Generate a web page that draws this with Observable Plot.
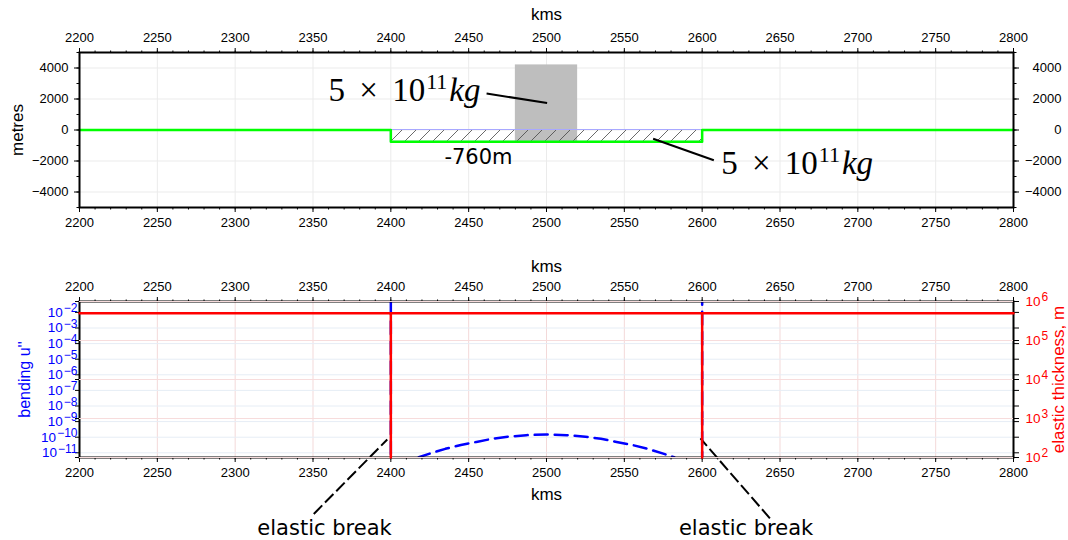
<!DOCTYPE html>
<html>
<head>
<meta charset="utf-8">
<script src="https://cdn.jsdelivr.net/npm/d3@7"></script>
<script src="https://cdn.jsdelivr.net/npm/@observablehq/plot@0.6"></script>
<style>
  html, body { margin: 0; padding: 0; background: #fff; }
  #wrap { position: relative; width: 1068px; height: 540px; overflow: hidden; background: #fff; }
  #wrap svg { position: absolute; left: 0; max-width: none; }
</style>
</head>
<body>
<div id="wrap"></div>
<script>
// ---------- data ----------
const kmTicks = [2200, 2250, 2300, 2350, 2400, 2450, 2500, 2550, 2600, 2650, 2700, 2750, 2800];
const kmMinor = d3.range(2200, 2801, 10);
const metreTicks = [-4000, -2000, 0, 2000, 4000];
const metreMinor = [-5000, -4000, -3000, -2000, -1000, 0, 1000, 2000, 3000, 4000, 5000];
const bendingTicks = [1e-2, 1e-3, 1e-4, 1e-5, 1e-6, 1e-7, 1e-8, 1e-9, 1e-10, 1e-11];
const thicknessTicks = [1e2, 1e3, 1e4, 1e5, 1e6];

// top panel: topography profile (metres)
const profileKm = [2200, 2400, 2400, 2600, 2600, 2800];
const profileM  = [0, 0, -760, -760, 0, 0];
// load block
const loadKm = [2480, 2520];
const loadM = [-760, 4200];
// infill (hatched)
const infillKm = [2400, 2600];
const infillM = [-760, 0];
// annotations
const massText = "5 × 10^11 kg";
const massLabelKm = [2457.6, 2612.2];
const massLabelM = [2522, -2189];
const leaderFromKm = [2461.5, 2568.5];
const leaderFromM = [2355, -563];
const leaderToKm = [2500.4, 2607.5];
const leaderToM = [1741, -1952];
const depthText = "-760m";
const depthKm = 2456.3;
const depthM = -1760;

// bottom panel
const thicknessKm = [2200, 2400, 2400, 2400, 2600, 2600, 2600, 2800];
const thicknessM  = [5e5, 5e5, 1e2, 5e5, 5e5, 1e2, 5e5, 5e5];
const bendingKm  = [2400, 2400, 2410, 2418, 2425, 2435, 2445, 2455, 2465, 2475, 2487, 2500, 2513, 2525, 2535, 2545, 2555, 2565, 2575, 2582, 2590, 2600, 2600];
const bendingVal = [1, 1e-13, 1e-12, 5.2e-12, 8.9e-12, 1.8e-11, 3.2e-11, 5.0e-11, 7.9e-11, 1.07e-10, 1.35e-10, 1.51e-10, 1.35e-10, 1.07e-10, 7.9e-11, 5.0e-11, 3.2e-11, 1.8e-11, 8.9e-12, 5.2e-12, 1e-12, 1e-13, 1];
const breakText = "elastic break";
const breakTipKm = [2397.7, 2598.9];
const breakTipVal = [7.2e-11, 8.3e-11];
const breakTailKm = [2350.5, 2643.5];
const breakTailVal = [1.2e-15, 6.3e-16];
const breakTextKm = [2357.4, 2628.2];

// ---------- tables ----------
const profile = profileKm.map((k, i) => ({km: k, m: profileM[i]}));
const load = [{x1: loadKm[0], x2: loadKm[1], y1: loadM[0], y2: loadM[1]}];
const infill = [{x1: infillKm[0], x2: infillKm[1], y1: infillM[0], y2: infillM[1]}];
const leaders = leaderFromKm.map((k, i) => ({x1: k, y1: leaderFromM[i], x2: leaderToKm[i], y2: leaderToM[i]}));
const thickness = thicknessKm.map((k, i) => ({km: k, v: thicknessM[i]}));
const bending = bendingKm.map((k, i) => ({km: k, v: bendingVal[i]}));
const breaks = breakTipKm.map((k, i) => ({x1: breakTailKm[i], y1: breakTailVal[i], x2: k, y2: breakTipVal[i], tx: breakTextKm[i], t: breakText}));

// ---------- helpers ----------
const W = 1068;
const base = {fontFamily: "'Liberation Sans', Arial, Helvetica, sans-serif", fontSize: "13px", background: "transparent", color: "black", overflow: "visible"};
const fmtInt = d3.format("d");
const fmtPow = d => "10^" + fmtInt(Math.round(Math.log10(d)));
const blank = () => "";
const NS = "http://www.w3.org/2000/svg";

function xAxes() {
  return [
    Plot.axisX(kmTicks, {anchor: "top", tickSize: 5, tickPadding: 6, tickFormat: fmtInt, label: null}),
    Plot.axisX(kmMinor, {anchor: "top", tickSize: 2.5, tickFormat: blank, label: null}),
    Plot.axisX(kmTicks, {anchor: "bottom", tickSize: 5, tickPadding: 5, tickFormat: fmtInt, label: null}),
    Plot.axisX(kmMinor, {anchor: "bottom", tickSize: 2.5, tickFormat: blank, label: null})
  ];
}

function richText(svg) {
  svg.querySelectorAll("text").forEach(t => {
    const s = t.textContent;
    if (s === massText) {
      const m = s.match(/^(.*)10\^(\d+) (.*)$/);
      t.textContent = "";
      const a = document.createElementNS(NS, "tspan");
      a.textContent = m[1] + "10";
      a.setAttribute("word-spacing", "6");
      const b = document.createElementNS(NS, "tspan");
      b.textContent = m[2];
      b.setAttribute("font-size", "22");
      b.setAttribute("dy", "-12");
      b.setAttribute("dx", "1");
      const c = document.createElementNS(NS, "tspan");
      c.textContent = m[3];
      c.setAttribute("font-style", "italic");
      c.setAttribute("dy", "12");
      c.setAttribute("dx", "2");
      t.append(a, b, c);
      return;
    }
    const m = s.match(/^10\^(.+)$/);
    if (m) {
      t.textContent = "10";
      t.setAttribute("font-size", "13.5");
      const sup = document.createElementNS(NS, "tspan");
      sup.textContent = m[1];
      sup.setAttribute("font-size", "12");
      sup.setAttribute("dy", "-4.5");
      sup.setAttribute("dx", "1");
      t.appendChild(sup);
    }
  });
}

// ---------- top panel ----------
const topPlot = Plot.plot({
  width: W, height: 250,
  marginLeft: 79, marginRight: 55, marginTop: 52, marginBottom: 43,
  style: base,
  x: {domain: [2200, 2800]},
  y: {domain: [-5000, 5000]},
  marks: [
    Plot.gridX(kmTicks, {stroke: "#ebebeb", strokeOpacity: 1}),
    Plot.gridY(metreTicks, {stroke: "#ebebeb", strokeOpacity: 1}),
    Plot.rect(load, {x1: "x1", x2: "x2", y1: "y1", y2: "y2", fill: "#bebebe"}),
    Plot.rect(infill, {x1: "x1", x2: "x2", y1: "y1", y2: "y2", fill: "url(#hatch)", stroke: "#a8a8ff", strokeWidth: 1}),
    Plot.line(profile, {x: "km", y: "m", stroke: "#00ff00", strokeWidth: 2.5}),
    Plot.link(leaders, {x1: "x1", y1: "y1", x2: "x2", y2: "y2", stroke: "black", strokeWidth: 2}),
    Plot.text([massText], {x: () => massLabelKm[0], y: () => massLabelM[0], textAnchor: "end", fontFamily: "'Liberation Serif', 'Times New Roman', serif", fontSize: 33}),
    Plot.text([massText], {x: () => massLabelKm[1], y: () => massLabelM[1], textAnchor: "start", fontFamily: "'Liberation Serif', 'Times New Roman', serif", fontSize: 33}),
    Plot.text([depthText], {x: () => depthKm, y: () => depthM, fontFamily: "'DejaVu Sans', sans-serif", fontSize: 21}),
    ...xAxes(),
    Plot.axisY(metreTicks, {anchor: "left", tickSize: 5, tickPadding: 6, tickFormat: fmtInt, label: null}),
    Plot.axisY(metreMinor, {anchor: "left", tickSize: 2.5, tickFormat: blank, label: null}),
    Plot.axisY(metreTicks, {anchor: "right", tickSize: 5, tickPadding: 43, textAnchor: "end", tickFormat: fmtInt, label: null}),
    Plot.axisY(metreMinor, {anchor: "right", tickSize: 2.5, tickFormat: blank, label: null}),
    Plot.frame({stroke: "black", strokeWidth: 2}),
    Plot.text(["kms"], {frameAnchor: "top", lineAnchor: "middle", textAnchor: "middle", dy: -38, fontSize: 17}),
    Plot.text(["metres"], {frameAnchor: "left", lineAnchor: "middle", textAnchor: "middle", dx: -62, rotate: -90, fontSize: 17})
  ]
});

// ---------- bottom panel: bending (left log axis) ----------
const bendPlot = Plot.plot({
  width: W, height: 290,
  marginLeft: 79, marginRight: 55, marginTop: 51, marginBottom: 83,
  style: base,
  x: {domain: [2200, 2800]},
  y: {type: "log", domain: [5e-12, 5e-2]},
  marks: [
    Plot.gridX(kmTicks, {stroke: "#f3d9d9", strokeOpacity: 1}),
    Plot.gridY(bendingTicks, {stroke: "#e6edf5", strokeOpacity: 1}),
    Plot.line(bending, {x: "km", y: "v", stroke: "blue", strokeWidth: 2.5, strokeDasharray: "13,7", clip: true}),
    Plot.link(breaks, {x1: "x1", y1: "y1", x2: "x2", y2: "y2", stroke: "black", strokeWidth: 2, strokeDasharray: "12,4"}),
    Plot.text(breaks, {x: "tx", text: "t", frameAnchor: "bottom", lineAnchor: "middle", dy: 71, fontFamily: "'DejaVu Sans', sans-serif", fontSize: 21}),
    ...xAxes(),
    Plot.axisY(bendingTicks, {anchor: "left", tickSize: 4, tickPadding: -2, tickFormat: fmtPow, fill: "blue", stroke: "black", label: null}),
    Plot.axisY(bendingTicks, {anchor: "right", tickSize: 5, tickFormat: blank, label: null}),
    Plot.frame({stroke: "black", strokeWidth: 2}),
    Plot.text(["kms"], {frameAnchor: "top", lineAnchor: "middle", textAnchor: "middle", dy: -35, fontSize: 17}),
    Plot.text(["kms"], {frameAnchor: "bottom", lineAnchor: "middle", textAnchor: "middle", dy: 37, fontSize: 17}),
    Plot.text(["bending u''"], {frameAnchor: "left", lineAnchor: "middle", textAnchor: "middle", dx: -55, rotate: -90, fontSize: 16, fill: "blue"})
  ]
});

// ---------- bottom panel: elastic thickness (right log axis) ----------
const thickPlot = Plot.plot({
  width: W, height: 290,
  marginLeft: 79, marginRight: 55, marginTop: 51, marginBottom: 83,
  style: base,
  x: {domain: [2200, 2800], axis: null},
  y: {type: "log", domain: [1e2, 1e6]},
  marks: [
    Plot.gridY(thicknessTicks, {stroke: "#f7dcdc", strokeOpacity: 1}),
    Plot.line(thickness, {x: "km", y: "v", stroke: "red", strokeWidth: 2.5}),
    Plot.axisY(thicknessTicks, {anchor: "right", tickSize: 5, tickPadding: 7, tickFormat: fmtPow, fill: "red", stroke: "black", label: null}),
    Plot.axisY(thicknessTicks, {anchor: "left", tickSize: 4, tickFormat: blank, label: null}),
    Plot.text(["elastic thickness, m"], {frameAnchor: "right", lineAnchor: "middle", textAnchor: "middle", dx: 45, rotate: -90, fontSize: 17, fill: "red"})
  ]
});

const wrap = document.getElementById("wrap");
topPlot.style.top = "0px";
bendPlot.style.top = "250px";
thickPlot.style.top = "250px";
wrap.append(topPlot, bendPlot, thickPlot);

// hatch pattern for the infill
const defs = document.createElementNS(NS, "defs");
defs.innerHTML = '<pattern id="hatch" patternUnits="userSpaceOnUse" width="14" height="14"><path d="M-2,2 L2,-2 M0,14 L14,0 M12,16 L16,12" stroke="#444" stroke-width="0.8" fill="none"/></pattern>';
topPlot.insertBefore(defs, topPlot.firstChild);

[topPlot, bendPlot, thickPlot].forEach(richText);
</script>
</body>
</html>
